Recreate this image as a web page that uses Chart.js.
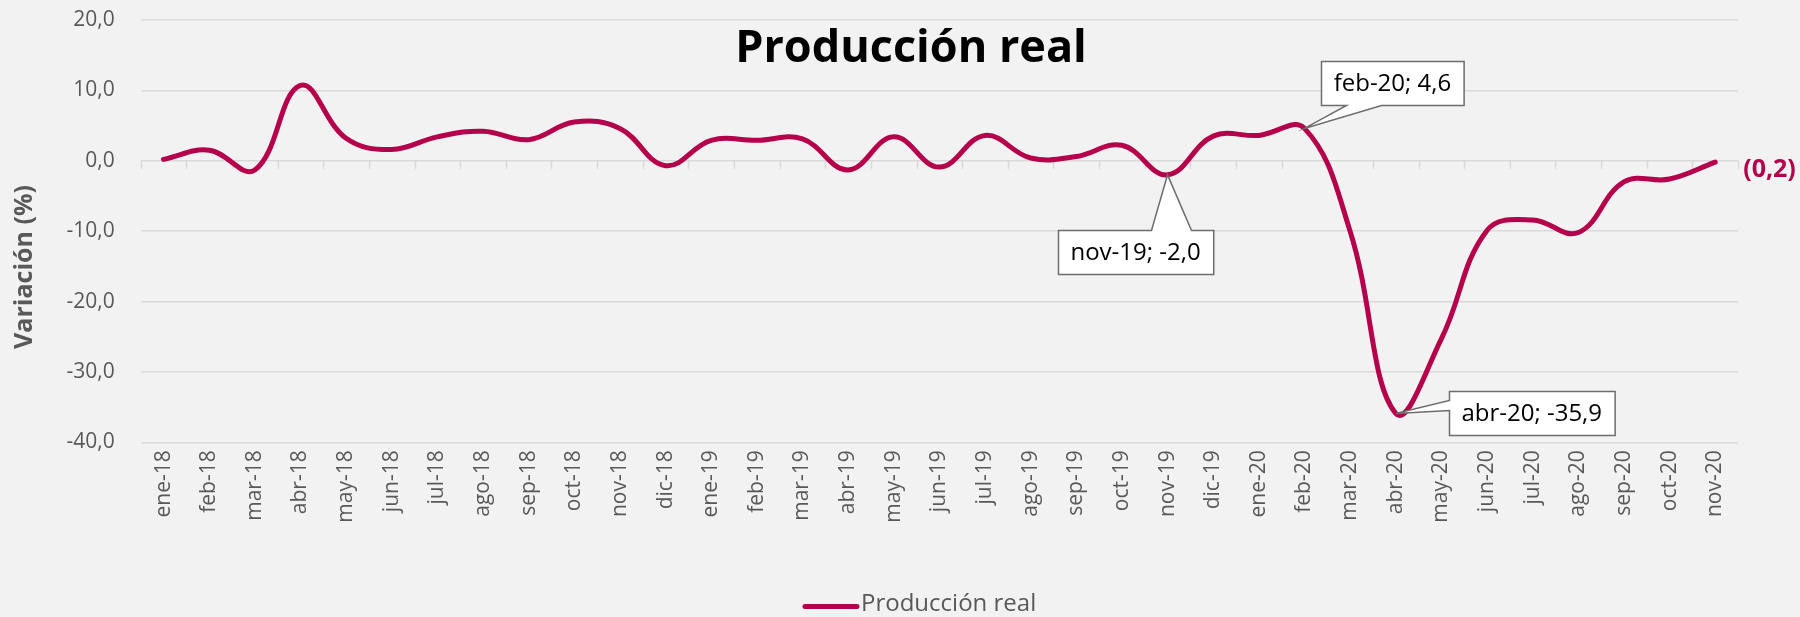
<!DOCTYPE html>
<html><head><meta charset="utf-8">
<script src="https://cdn.jsdelivr.net/npm/chart.js@4.4.1/dist/chart.umd.min.js"></script>
<style>
html,body{margin:0;padding:0;background:#f2f2f2;}
canvas{display:block;}
</style></head><body>
<canvas id="c" width="1800" height="617"></canvas>
<script>
// ---- data ----
const categories = ['ene-18','feb-18','mar-18','abr-18','may-18','jun-18','jul-18','ago-18','sep-18','oct-18','nov-18','dic-18',
  'ene-19','feb-19','mar-19','abr-19','may-19','jun-19','jul-19','ago-19','sep-19','oct-19','nov-19','dic-19',
  'ene-20','feb-20','mar-20','abr-20','may-20','jun-20','jul-20','ago-20','sep-20','oct-20','nov-20'];
const values = [0.2, 1.5, -1.3, 10.7, 3.2, 1.6, 3.4, 4.2, 3.0, 5.5, 4.6, -0.7,
  2.9, 2.9, 3.1, -1.3, 3.4, -0.9, 3.6, 0.4, 0.6, 2.2, -2.0, 3.5,
  3.6, 4.6, -10.0, -35.9, -25.3, -9.9, -8.4, -10.2, -3.0, -2.6, -0.2];
const yMin = -40, yMax = 20, yStep = 10;
const seriesName = 'Producción real';
const chartTitle = 'Producción real';
const yAxisTitle = 'Variación (%)';
const calloutCategories = ['feb-20', 'nov-19', 'abr-20'];

// ---- layout / style (not data) ----
const FONT = '"Open Sans", "Noto Sans", sans-serif';
const LINE_COLOR = '#b5004b';
const GRID_COLOR = '#d9d9d9';
const TEXT_GRAY = '#595959';
const calloutLayout = {
  'feb-20': {dx: 88, dy: -45, side: 'bottom', b1: 25, b2: 60},
  'nov-19': {dx: -32, dy: 77, side: 'top', b1: 93, b2: 133},
  'abr-20': {dx: 136, dy: 0, side: 'left', b1: 9, b2: 19}
};

const fmt = v => v.toFixed(1).replace('.', ',');
const fmtAcct = v => v < 0 ? '(' + fmt(Math.abs(v)) + ')' : fmt(v);

const decor = {
  id: 'decor',
  beforeDraw(chart) {
    const ctx = chart.ctx;
    ctx.save();
    ctx.fillStyle = '#f2f2f2';
    ctx.fillRect(0, 0, chart.width, chart.height);
    ctx.restore();
  },
  beforeDatasetsDraw(chart) {
    const ctx = chart.ctx, x = chart.scales.x, y = chart.scales.y;
    const y0 = y.getPixelForValue(0);
    const step = x.getPixelForValue(1) - x.getPixelForValue(0);
    ctx.save();
    ctx.strokeStyle = GRID_COLOR;
    ctx.lineWidth = 1.5;
    ctx.beginPath();
    for (let i = 0; i <= categories.length; i++) {
      const px = Math.round(x.getPixelForValue(0) - step / 2 + i * step) + 0.5;
      ctx.moveTo(px, y0);
      ctx.lineTo(px, y0 + 8);
    }
    ctx.stroke();
    ctx.restore();
  },
  afterDatasetsDraw(chart) {
    const ctx = chart.ctx, x = chart.scales.x, y = chart.scales.y;
    ctx.save();
    // title
    ctx.fillStyle = '#000';
    ctx.font = 'bold 45px ' + FONT;
    ctx.textAlign = 'center';
    ctx.textBaseline = 'alphabetic';
    ctx.fillText(chartTitle, 911, 62);
    // y axis title
    ctx.save();
    ctx.translate(25, 267);
    ctx.rotate(-Math.PI / 2);
    ctx.fillStyle = TEXT_GRAY;
    ctx.font = 'bold 25px ' + FONT;
    ctx.textAlign = 'center';
    ctx.textBaseline = 'middle';
    ctx.fillText(yAxisTitle, 0, 0);
    ctx.restore();
    // last value label
    const li = values.length - 1;
    const lx = x.getPixelForValue(li), ly = y.getPixelForValue(values[li]);
    ctx.fillStyle = LINE_COLOR;
    ctx.font = 'bold 25px ' + FONT;
    ctx.textAlign = 'left';
    ctx.textBaseline = 'middle';
    ctx.fillText(fmtAcct(values[li]), lx + 28, ly + 8);
    // callouts
    ctx.font = '24px ' + FONT;
    calloutCategories.forEach(cat => {
      const i = categories.indexOf(cat);
      const px = x.getPixelForValue(i), py = y.getPixelForValue(values[i]);
      const L = calloutLayout[cat];
      const text = cat + '; ' + fmt(values[i]);
      const w = ctx.measureText(text).width + 25, h = 44;
      const cx = px + L.dx, cy = py + L.dy;
      const l = Math.round(cx - w / 2) + 0.5, t = Math.round(cy - h / 2) + 0.5, r = l + w, b = t + h;
      ctx.beginPath();
      ctx.moveTo(l, t);
      if (L.side === 'top') { ctx.lineTo(l + L.b1, t); ctx.lineTo(px, py); ctx.lineTo(l + L.b2, t); }
      ctx.lineTo(r, t);
      ctx.lineTo(r, b);
      if (L.side === 'bottom') { ctx.lineTo(l + L.b2, b); ctx.lineTo(px, py); ctx.lineTo(l + L.b1, b); }
      ctx.lineTo(l, b);
      if (L.side === 'left') { ctx.lineTo(l, t + L.b2); ctx.lineTo(px, py); ctx.lineTo(l, t + L.b1); }
      ctx.closePath();
      ctx.fillStyle = '#ffffff';
      ctx.fill();
      ctx.strokeStyle = '#6d6d6d';
      ctx.lineWidth = 1.5;
      ctx.lineJoin = 'miter';
      ctx.stroke();
      ctx.fillStyle = '#000';
      ctx.textAlign = 'center';
      ctx.textBaseline = 'middle';
      ctx.fillText(text, cx, cy + 1);
    });
    // legend
    const ds = chart.data.datasets[0];
    ctx.strokeStyle = ds.borderColor;
    ctx.lineWidth = 5;
    ctx.lineCap = 'round';
    ctx.beginPath();
    ctx.moveTo(805, 606.5);
    ctx.lineTo(857, 606.5);
    ctx.stroke();
    ctx.fillStyle = TEXT_GRAY;
    ctx.font = '24px ' + FONT;
    ctx.textAlign = 'left';
    ctx.textBaseline = 'middle';
    ctx.fillText(ds.label, 861, 604);
    ctx.restore();
  }
};

new Chart(document.getElementById('c'), {
  type: 'line',
  data: {
    labels: categories,
    datasets: [{
      label: seriesName,
      data: values,
      borderColor: LINE_COLOR,
      backgroundColor: LINE_COLOR,
      borderWidth: 5,
      tension: 0.4,
      pointRadius: 0,
      pointHoverRadius: 0,
      borderCapStyle: 'round',
      borderJoinStyle: 'round',
      fill: false,
      clip: false
    }]
  },
  options: {
    responsive: false,
    devicePixelRatio: 1,
    animation: false,
    events: [],
    layout: {autoPadding: false, padding: {top: 20, right: 62, bottom: 0, left: 0}},
    plugins: {legend: {display: false}, title: {display: false}, tooltip: {enabled: false}},
    scales: {
      x: {
        type: 'category',
        offset: true,
        grid: {display: false, drawTicks: false},
        border: {display: false},
        ticks: {
          autoSkip: false, minRotation: 90, maxRotation: 90, padding: 8,
          color: TEXT_GRAY, font: {family: FONT, size: 21}
        },
        afterFit: s => { s.height = 174.7; s.paddingLeft = 0; s.paddingRight = 0; }
      },
      y: {
        min: yMin, max: yMax,
        grid: {color: GRID_COLOR, lineWidth: 1.5, drawTicks: false},
        border: {display: false},
        ticks: {
          stepSize: yStep, padding: 26, color: TEXT_GRAY,
          font: {family: FONT, size: 21},
          callback: v => fmt(v)
        },
        afterFit: s => { s.width = 140.7; s.paddingTop = 0; s.paddingBottom = 0; }
      }
    }
  },
  plugins: [decor]
});
</script>
</body></html>
